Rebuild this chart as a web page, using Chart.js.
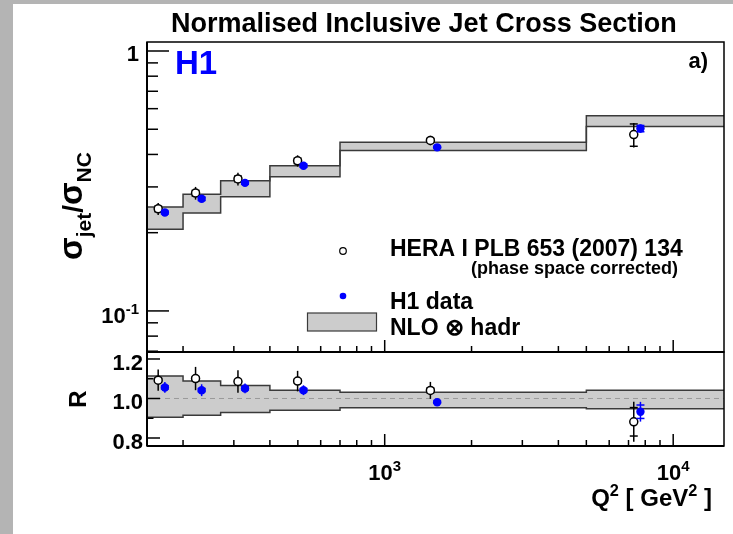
<!DOCTYPE html>
<html>
<head>
<meta charset="utf-8">
<script src="https://cdn.jsdelivr.net/npm/chart.js@4/dist/chart.umd.min.js"></script>
<style>
  body { margin: 0; background: #b4b4b4; width: 733px; height: 534px; overflow: hidden; position: relative; }
  #sheet { position: absolute; left: 13px; top: 4px; width: 720px; height: 530px; background: #fff; }
  canvas { position: absolute; left: 0; top: 0; }
</style>
</head>
<body>
<div id="sheet"></div>
<canvas id="top" width="733" height="534"></canvas>
<canvas id="bottom" width="733" height="534"></canvas>
<script>
// Q2 bin edges [GeV^2]
const binEdges = [150, 200, 270, 400, 700, 5000, 15000];

// NLO x hadr band, normalised cross section
const nloHigh = [0.251, 0.281, 0.317, 0.362, 0.446, 0.564];
const nloLow = [0.206, 0.238, 0.275, 0.328, 0.414, 0.512];
// same band as ratio R
const ratioHigh = [1.114, 1.088, 1.066, 1.042, 1.032, 1.042];
const ratioLow = [0.905, 0.915, 0.929, 0.941, 0.953, 0.948];

// HERA I PLB 653 (2007) 134
const heraQ2 = [164, 221, 310, 499, 1440, 7300];
const heraXsec = [0.247, 0.284, 0.322, 0.378, 0.453, 0.477];
const heraXsecErr = [0.013, 0.016, 0.018, 0.019, 0.019, 0.052];
const heraXsecStat = [0.006, 0.007, 0.008, 0.009, 0.008, 0.047];
const heraRatio = [1.093, 1.101, 1.086, 1.088, 1.041, 0.882];
const heraRatioErr = [0.054, 0.059, 0.057, 0.052, 0.043, 0.101];
const heraRatioStat = [0.01, 0.01, 0.01, 0.01, 0.012, 0.072];

// H1 data
const h1Q2 = [173, 232, 328, 523, 1520, 7700];
const h1Xsec = [0.239, 0.270, 0.311, 0.362, 0.426, 0.503];
const h1XsecErr = [0.004, 0.005, 0.006, 0.007, 0.004, 0.018];
const h1XsecStat = [0.003, 0.004, 0.004, 0.005, 0.003, 0.014];
const h1Ratio = [1.056, 1.042, 1.051, 1.042, 0.981, 0.933];
const h1RatioErr = [0.027, 0.030, 0.025, 0.025, 0.010, 0.050];
const h1RatioStat = [0.008, 0.008, 0.008, 0.008, 0.006, 0.034];

// axis ticks
const xMinorTicks = [200, 300, 400, 500, 600, 700, 800, 900, 2000, 3000, 4000, 5000, 6000, 7000, 8000, 9000];
const xMajorTicks = [1000, 10000];
const xTickExp = ["3", "4"];
const topMajorTicks = [1, 0.1];
const topMinorTicks = [0.07, 0.08, 0.09, 0.2, 0.3, 0.4, 0.5, 0.6, 0.7, 0.8, 0.9];
const ratioMajorTicks = [0.8, 1.0, 1.2];
const ratioMinorTicks = [0.9, 1.1];
const ratioTickLabels = ["0.8", "1.0", "1.2"];

const FONT = '"Liberation Sans", Arial, sans-serif';

function stepData(vals) {
  return binEdges.map((x, i) => ({ x: x, y: vals[Math.min(i, vals.length - 1)] }));
}
function pts(xs, ys, err, stat) {
  return xs.map((x, i) => ({ x: x, y: ys[i], err: err[i], stat: stat[i] }));
}
function text(ctx, s, x, y, size, align, color) {
  ctx.font = "bold " + size + "px " + FONT;
  ctx.fillStyle = color || "#000";
  ctx.textAlign = align || "left";
  ctx.textBaseline = "alphabetic";
  ctx.fillText(s, x, y);
}
// pieces: [string, isSuperscript]
function richText(ctx, pieces, x, y, size, align) {
  const sup = size * 0.68;
  let w = 0;
  pieces.forEach(p => {
    ctx.font = "bold " + (p[1] ? sup : size) + "px " + FONT;
    w += ctx.measureText(p[0]).width;
  });
  let cx = x;
  if (align === "center") cx = x - w / 2;
  if (align === "right") cx = x - w;
  pieces.forEach(p => {
    text(ctx, p[0], cx, p[1] ? y - size * 0.42 : y, p[1] ? sup : size, "left");
    ctx.font = "bold " + (p[1] ? sup : size) + "px " + FONT;
    cx += ctx.measureText(p[0]).width;
  });
}
function line(ctx, x1, y1, x2, y2) {
  ctx.beginPath();
  ctx.moveTo(x1, y1);
  ctx.lineTo(x2, y2);
  ctx.stroke();
}

const errorBars = {
  id: "errorBars",
  beforeDatasetDraw(chart, args) {
    const ds = chart.data.datasets[args.index];
    if (!ds.errorBars) return;
    const ctx = chart.ctx, xs = chart.scales.x, ys = chart.scales.y;
    ctx.save();
    ctx.strokeStyle = ds.borderColor;
    ctx.lineWidth = 1.5;
    ds.data.forEach(p => {
      const px = xs.getPixelForValue(p.x);
      line(ctx, px, ys.getPixelForValue(p.y + p.err), px, ys.getPixelForValue(p.y - p.err));
      [p.y + p.stat, p.y - p.stat].forEach(v => {
        const py = ys.getPixelForValue(v);
        line(ctx, px - 4, py, px + 4, py);
      });
    });
    ctx.restore();
  }
};

function drawFrame(chart, yMajor, yMinor, yMajorLen, yMinorLen) {
  const ctx = chart.ctx, a = chart.chartArea;
  const xs = chart.scales.x, ys = chart.scales.y;
  ctx.save();
  ctx.strokeStyle = "#000";
  ctx.lineWidth = 1.5;
  ctx.strokeRect(a.left, a.top, a.right - a.left, a.bottom - a.top);
  ctx.lineWidth = 2;
  line(ctx, a.left, a.top, a.left, a.bottom);
  line(ctx, a.left, a.bottom, a.right, a.bottom);
  ctx.lineWidth = 1.5;
  yMajor.forEach(v => { const y = ys.getPixelForValue(v); line(ctx, a.left, y, a.left + yMajorLen, y); });
  yMinor.forEach(v => { const y = ys.getPixelForValue(v); line(ctx, a.left, y, a.left + yMinorLen, y); });
  xMajorTicks.forEach(v => { const x = xs.getPixelForValue(v); line(ctx, x, a.bottom, x, a.bottom - 12); });
  xMinorTicks.forEach(v => { const x = xs.getPixelForValue(v); line(ctx, x, a.bottom, x, a.bottom - 6); });
  ctx.restore();
}

const topDecor = {
  id: "topDecor",
  afterDraw(chart) {
    const ctx = chart.ctx, ys = chart.scales.y;
    drawFrame(chart, topMajorTicks, topMinorTicks, 22, 11);
    ctx.save();
    text(ctx, "1", 139, ys.getPixelForValue(1) + 10, 22, "right");
    richText(ctx, [["10", 0], ["-1", 1]], 139, ys.getPixelForValue(0.1) + 12, 22, "right");
    text(ctx, "Normalised Inclusive Jet Cross Section", 171, 32, 27, "left");
    text(ctx, "H1", 175, 74, 33, "left", "#0000ff");
    text(ctx, "a)", 708, 68, 22, "right");

    // y axis title, rotated
    ctx.translate(82, 206);
    ctx.rotate(-Math.PI / 2);
    const parts = [["σ", 33, 0], ["jet", 21, 9], ["/", 28, 0], ["σ", 33, 0], ["NC", 21, 9]];
    let total = 0;
    parts.forEach(p => { ctx.font = "bold " + p[1] + "px " + FONT; total += ctx.measureText(p[0]).width; });
    let cx = -total / 2;
    parts.forEach(p => {
      text(ctx, p[0], cx, p[2], p[1], "left");
      ctx.font = "bold " + p[1] + "px " + FONT;
      cx += ctx.measureText(p[0]).width;
    });
    ctx.restore();

    // legend
    ctx.save();
    ctx.lineWidth = 1.2;
    ctx.strokeStyle = "#000";
    ctx.fillStyle = "#fff";
    ctx.beginPath(); ctx.arc(343, 251, 3.3, 0, 2 * Math.PI); ctx.fill(); ctx.stroke();
    ctx.fillStyle = "#0000ff";
    ctx.beginPath(); ctx.arc(343, 296, 3.3, 0, 2 * Math.PI); ctx.fill();
    ctx.fillStyle = "#cccccc";
    ctx.fillRect(307.5, 313, 69, 18);
    ctx.strokeStyle = "#3a3a3a";
    ctx.strokeRect(307.5, 313, 69, 18);
    text(ctx, "HERA I PLB 653 (2007) 134", 390, 256, 23, "left");
    text(ctx, "(phase space corrected)", 678, 274, 18, "right");
    text(ctx, "H1 data", 390, 309, 23, "left");
    text(ctx, "NLO ⊗ hadr", 390, 335, 23, "left");
    ctx.restore();
  }
};

const bottomDecor = {
  id: "bottomDecor",
  afterDraw(chart) {
    const ctx = chart.ctx, xs = chart.scales.x, ys = chart.scales.y;
    drawFrame(chart, ratioMajorTicks, ratioMinorTicks, 13, 6.5);
    ctx.save();
    ratioMajorTicks.forEach((v, i) => text(ctx, ratioTickLabels[i], 143, ys.getPixelForValue(v) + 11, 22, "right"));
    xMajorTicks.forEach((v, i) => richText(ctx, [["10", 0], [xTickExp[i], 1]], xs.getPixelForValue(v), 480, 22, "center"));
    richText(ctx, [["Q", 0], ["2", 1], [" [ GeV", 0], ["2", 1], [" ]", 0]], 712, 506, 24, "right");
    ctx.translate(86, 399);
    ctx.rotate(-Math.PI / 2);
    text(ctx, "R", 0, 0, 24, "center");
    ctx.restore();
  }
};

function makeChart(id, padding, yScale, datasets, decor) {
  return new Chart(document.getElementById(id), {
    type: "scatter",
    data: { datasets: datasets },
    options: {
      responsive: false,
      animation: false,
      events: [],
      layout: { padding: padding },
      scales: {
        x: { type: "logarithmic", min: 150, max: 15000, bounds: "data", display: false },
        y: Object.assign({ display: false, bounds: "data" }, yScale)
      },
      plugins: { legend: { display: false }, tooltip: { enabled: false } }
    },
    plugins: [errorBars, decor]
  });
}

function bandSets(hi, lo) {
  return [
    { type: "line", data: stepData(hi), stepped: "before", fill: "+1", backgroundColor: "#cccccc",
      borderColor: "#3a3a3a", borderWidth: 1.5, pointRadius: 0, order: 4 },
    { type: "line", data: stepData(lo), stepped: "before", fill: false,
      borderColor: "#3a3a3a", borderWidth: 1.5, pointRadius: 0, order: 3 }
  ];
}
function pointSets(heraData, h1Data) {
  return [
    { label: "HERA I PLB 653 (2007) 134", data: heraData, pointRadius: 4, pointBackgroundColor: "#fff",
      pointBorderColor: "#000", pointBorderWidth: 1.5, borderColor: "#000", errorBars: true, order: 1 },
    { label: "H1 data", data: h1Data, pointRadius: 4.2, pointBackgroundColor: "#0000ff",
      pointBorderColor: "#0000ff", pointBorderWidth: 0, borderColor: "#0000ff", errorBars: true, order: 0 }
  ];
}

makeChart("top", { left: 147, top: 42, right: 9, bottom: 182 },
  { type: "logarithmic", min: 0.0695, max: 1.083 },
  pointSets(pts(heraQ2, heraXsec, heraXsecErr, heraXsecStat), pts(h1Q2, h1Xsec, h1XsecErr, h1XsecStat))
    .concat(bandSets(nloHigh, nloLow)),
  topDecor);

makeChart("bottom", { left: 147, top: 352, right: 9, bottom: 88 },
  { type: "linear", min: 0.7595, max: 1.2354 },
  pointSets(pts(heraQ2, heraRatio, heraRatioErr, heraRatioStat), pts(h1Q2, h1Ratio, h1RatioErr, h1RatioStat))
    .concat(bandSets(ratioHigh, ratioLow))
    .concat([{ type: "line", data: [{ x: binEdges[0], y: 1 }, { x: binEdges[binEdges.length - 1], y: 1 }],
      borderColor: "#999999", borderWidth: 1, borderDash: [5, 4], pointRadius: 0, order: 2 }]),
  bottomDecor);
</script>
</body>
</html>
